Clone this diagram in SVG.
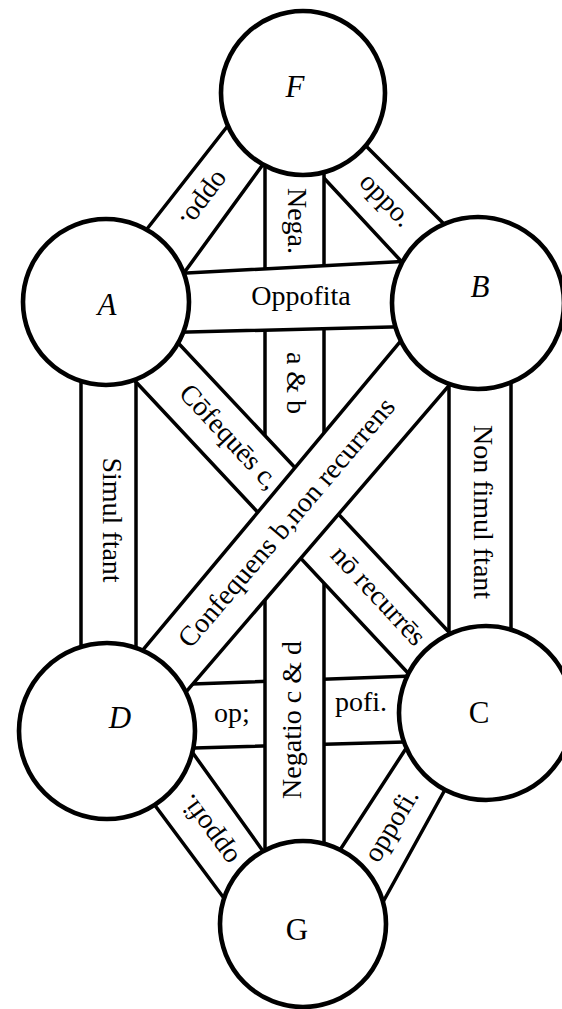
<svg xmlns="http://www.w3.org/2000/svg" width="562" height="1009" viewBox="0 0 562 1009">
<style>
.band{fill:#fff;stroke:none}
.edge{stroke:#000;stroke-width:3.5;stroke-linecap:round;fill:none}
.node{fill:#fff;stroke:#000;stroke-width:4.6}
.lbl{font-family:"Liberation Serif","DejaVu Serif",serif;font-size:28px;fill:#000;text-anchor:middle}
.nl{font-family:"Liberation Serif","DejaVu Serif",serif;font-size:31px;fill:#000;text-anchor:middle;font-style:italic}
.nr{font-style:normal}
</style>
<rect width="562" height="1009" fill="#fff"/>
<g id="connectors">
  <g id="band-D-G">
    <polygon class="band" points="145,792 185,742 267.5,857.4 232,909"/>
    <line class="edge" x1="145" y1="792" x2="232" y2="909"/>
    <line class="edge" x1="185" y1="742" x2="267.5" y2="857.4"/>
    <text class="lbl" transform="translate(210,829) rotate(-126)" y="7">oppofi.</text>
  </g>
  <g id="band-C-G">
    <polygon class="band" points="451.7,777.5 415.9,733.2 329.1,866.8 378.3,910.5"/>
    <line class="edge" x1="451.7" y1="777.5" x2="378.3" y2="910.5"/>
    <line class="edge" x1="415.9" y1="733.2" x2="329.1" y2="866.8"/>
    <text class="lbl" transform="translate(393,826) rotate(-59)" y="7">oppofi.</text>
  </g>
  <g id="band-F-A">
    <polygon class="band" points="237,114 272,152 173,288 136,243"/>
    <line class="edge" x1="237" y1="114" x2="136" y2="243"/>
    <line class="edge" x1="272" y1="152" x2="173" y2="288"/>
    <text class="lbl" transform="translate(204,199) rotate(127)" y="7">oppo.</text>
  </g>
  <g id="band-F-B">
    <polygon class="band" points="354,134 456,236 414,275 309,162"/>
    <line class="edge" x1="354" y1="134" x2="456" y2="236"/>
    <line class="edge" x1="309" y1="162" x2="414" y2="275"/>
    <text class="lbl" transform="translate(385,201) rotate(46)" y="7">oppo.</text>
  </g>
  <g id="band-D-C">
    <polygon class="band" points="150,685.5 440,675 440,741 150,749.3"/>
    <line class="edge" x1="150" y1="685.5" x2="440" y2="675"/>
    <line class="edge" x1="150" y1="749.3" x2="440" y2="741"/>
    <text class="lbl" x="232" y="722">op;</text>
    <text class="lbl" x="361" y="711">pofi.</text>
  </g>
  <g id="band-A-D">
    <polygon class="band" points="81,360 136,360 136,670 81,670"/>
    <line class="edge" x1="81" y1="360" x2="81" y2="670"/>
    <line class="edge" x1="136" y1="360" x2="136" y2="670"/>
    <text class="lbl" transform="translate(110,520) rotate(90)" y="7">Simul ftant</text>
  </g>
  <g id="band-B-C">
    <polygon class="band" points="449,360 511,360 511,660 449,660"/>
    <line class="edge" x1="449" y1="360" x2="449" y2="660"/>
    <line class="edge" x1="511" y1="360" x2="511" y2="660"/>
    <text class="lbl" transform="translate(481,512) rotate(90)" y="7">Non fimul ftant</text>
  </g>
  <g id="band-F-G">
    <polygon class="band" points="265,155 324,155 324,865 265,865"/>
    <line class="edge" x1="265" y1="155" x2="265" y2="865"/>
    <line class="edge" x1="324" y1="155" x2="324" y2="865"/>
    <text class="lbl" transform="translate(295,221) rotate(90)" y="7">Nega.</text>
    <text class="lbl" transform="translate(294,383) rotate(90)" y="7">a &amp; b</text>
    <text class="lbl" transform="translate(294,720) rotate(-90)" y="7">Negatio c &amp; d</text>
  </g>
  <g id="band-A-C">
    <polygon class="band" points="170,334.2 465,649.2 425,691.2 125,370.2"/>
    <line class="edge" x1="170" y1="334.2" x2="465" y2="649.2"/>
    <line class="edge" x1="125" y1="370.2" x2="425" y2="691.2"/>
    <text class="lbl" transform="translate(228,438) rotate(47)" y="7">Cōfequēs c,</text>
    <text class="lbl" transform="translate(377,597) rotate(47)" y="7">nō recurrēs</text>
  </g>
  <g id="band-D-B">
    <polygon class="band" points="130,665.4 420,317.9 465,366.9 170,710.6"/>
    <line class="edge" x1="130" y1="665.4" x2="420" y2="317.9"/>
    <line class="edge" x1="170" y1="710.6" x2="465" y2="366.9"/>
    <text class="lbl" transform="translate(288,524) rotate(-49.6)" y="7" textLength="318" lengthAdjust="spacingAndGlyphs">Confequens b,non recurrens</text>
  </g>
  <g id="band-A-B">
    <polygon class="band" points="150,275 430,260 430,326 150,333"/>
    <line class="edge" x1="150" y1="275" x2="430" y2="260"/>
    <line class="edge" x1="150" y1="333" x2="430" y2="326"/>
    <text class="lbl" x="301" y="305">Oppofita</text>
  </g>
</g>
<g id="node-F"><circle class="node" cx="303" cy="93" r="82"/><text class="nl" x="295" y="97">F</text></g>
<g id="node-A"><circle class="node" cx="106" cy="302" r="83"/><text class="nl" x="107" y="315">A</text></g>
<g id="node-B"><circle class="node" cx="478" cy="303" r="86"/><text class="nl" x="480" y="297">B</text></g>
<g id="node-D"><circle class="node" cx="107" cy="731" r="88"/><text class="nl" x="120" y="728">D</text></g>
<g id="node-C"><circle class="node" cx="486" cy="713" r="87"/><text class="nl nr" x="479" y="723">C</text></g>
<g id="node-G"><circle class="node" cx="303" cy="924" r="83"/><text class="nl nr" x="297" y="940">G</text></g>
</svg>
